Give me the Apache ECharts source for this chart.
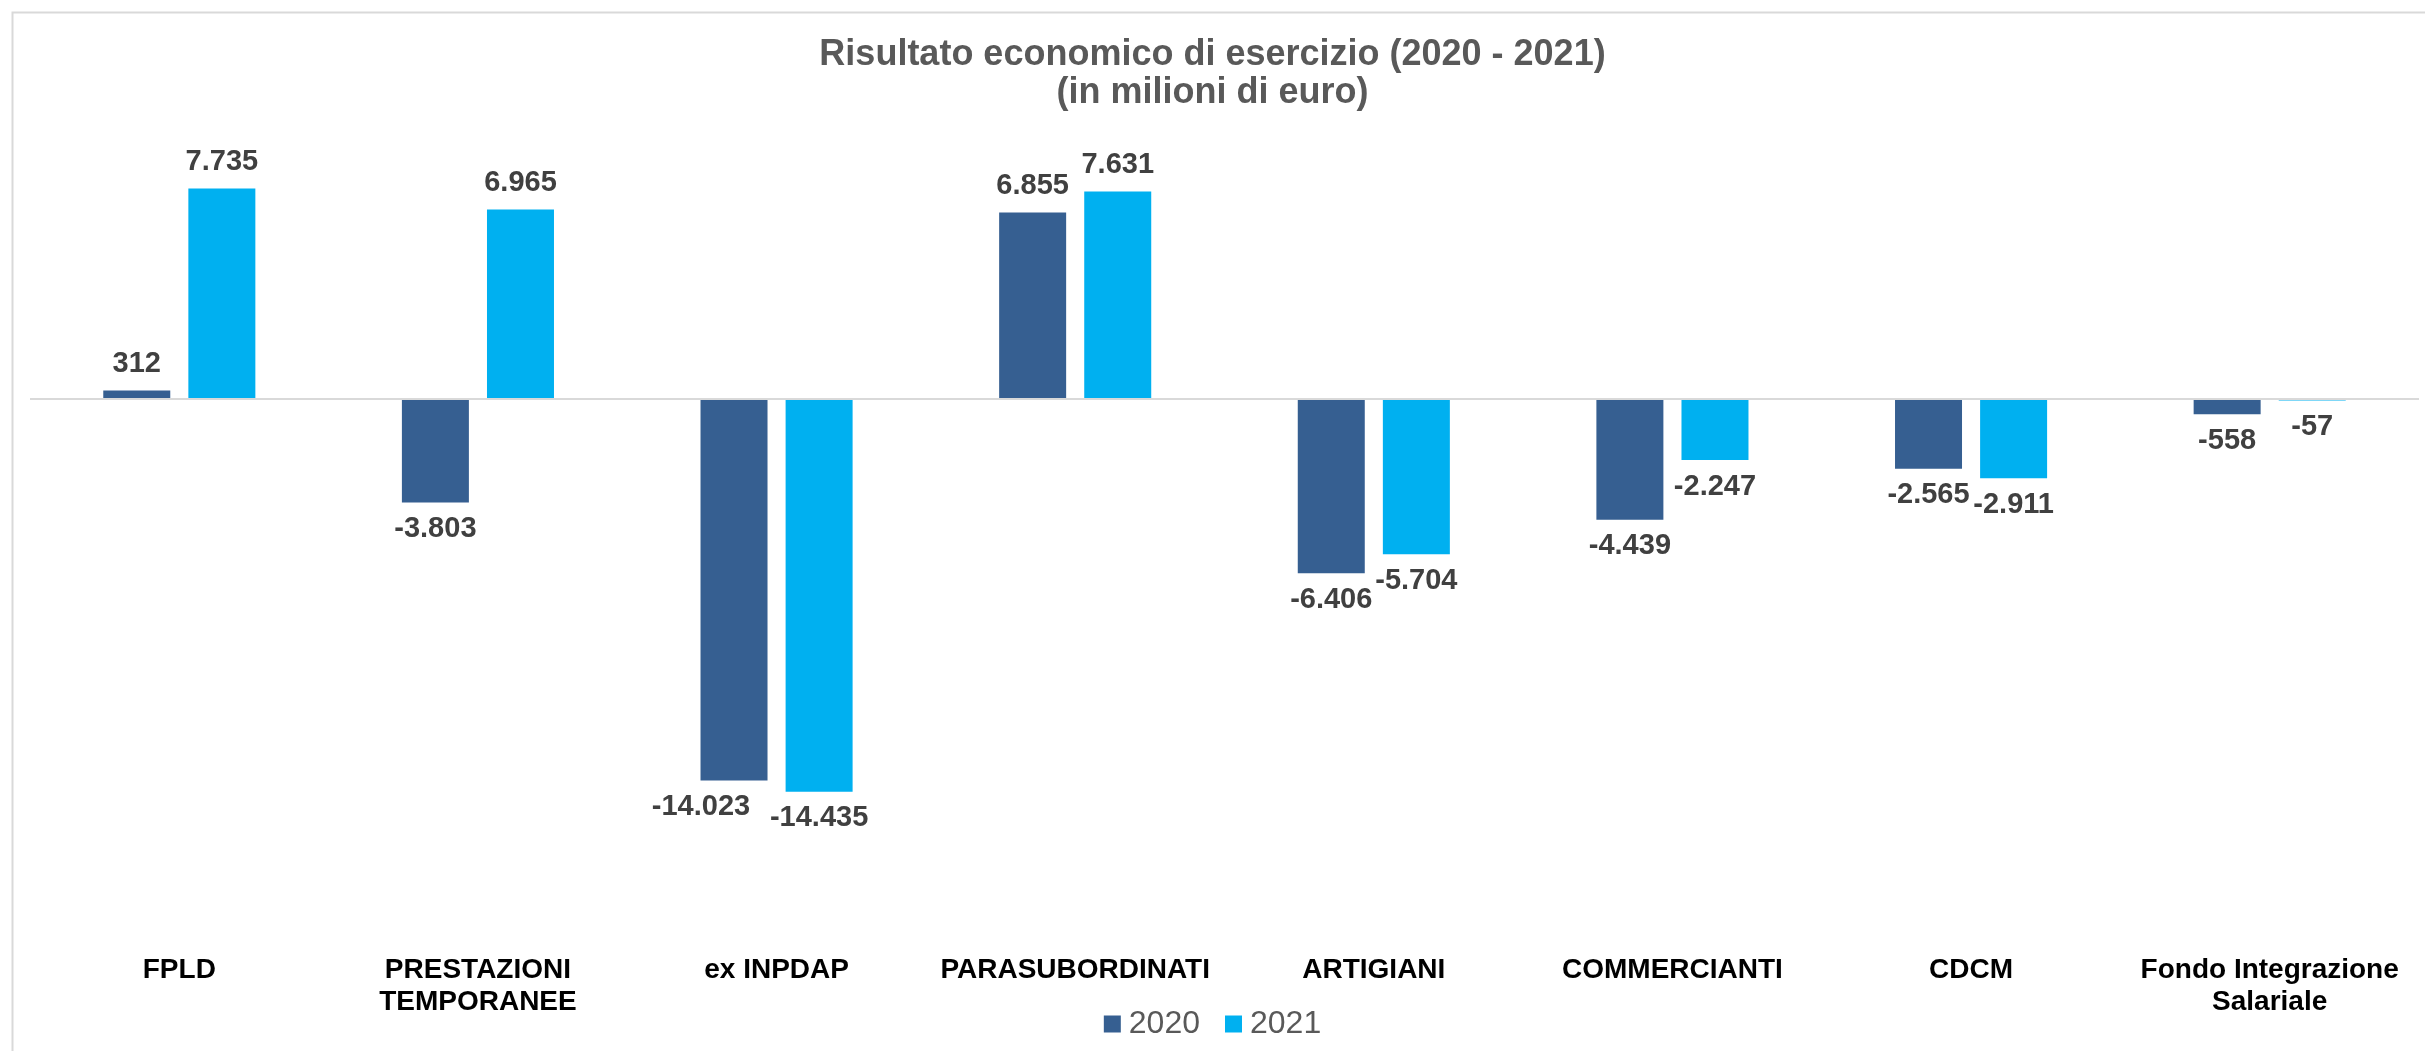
<!DOCTYPE html>
<html>
<head>
<meta charset="utf-8">
<script src="https://cdn.jsdelivr.net/npm/echarts@6/dist/echarts.min.js"></script>
<style>
  html, body { margin: 0; padding: 0; background: #fff; }
  #chart { width: 2425px; height: 1051px; }
</style>
</head>
<body>
<div id="chart"></div>
<script>
var categories = ['FPLD', 'PRESTAZIONI\nTEMPORANEE', 'ex INPDAP', 'PARASUBORDINATI', 'ARTIGIANI', 'COMMERCIANTI', 'CDCM', 'Fondo Integrazione\nSalariale'];
var seriesNames = ['2020', '2021'];
var values2020 = [312, -3803, -14023, 6855, -6406, -4439, -2565, -558];
var values2021 = [7735, 6965, -14435, 7631, -5704, -2247, -2911, -57];

var font = '"Liberation Sans", Arial, sans-serif';

// formato italiano: punto come separatore delle migliaia
function fmt(v) {
  var s = String(Math.abs(v)).replace(/\B(?=(\d{3})+(?!\d))/g, '.');
  return (v < 0 ? '-' : '') + s;
}

// etichette sopra/sotto la barra a seconda del segno
function barData(vals, shift) {
  return vals.map(function (v, i) {
    var lab = { position: v < 0 ? 'bottom' : 'top' };
    if (shift && shift[i]) lab.offset = [shift[i], 0];
    return { value: v, label: lab };
  });
}

var chart = echarts.init(document.getElementById('chart'));
chart.setOption({
  animation: false,
  backgroundColor: '#fff',
  title: {
    text: 'Risultato economico di esercizio (2020 - 2021)\n(in milioni di euro)',
    left: 'center',
    top: 31,
    textStyle: {
      fontFamily: font,
      fontSize: 36,
      fontWeight: 'bold',
      color: '#595959',
      lineHeight: 38,
      align: 'center'
    }
  },
  graphic: [{
    type: 'rect',
    left: 10,
    top: 10,
    shape: { width: 2500, height: 1100 },
    style: { fill: 'none', stroke: '#D9D9D9', lineWidth: 2 },
    silent: true
  }],
  legend: {
    data: seriesNames,
    left: 'center',
    top: 1003,
    icon: 'rect',
    itemWidth: 17,
    itemHeight: 17,
    itemGap: 25,
    textStyle: {
      fontFamily: font,
      fontSize: 32,
      color: '#595959',
      padding: [0, 0, 0, 3]
    }
  },
  grid: {
    left: 30,
    right: 6,
    top: 127,
    bottom: 108,
    containLabel: false
  },
  xAxis: {
    type: 'category',
    data: categories,
    axisLine: { show: false, onZero: false },
    axisTick: { show: false },
    axisLabel: {
      interval: 0,
      margin: 11,
      fontFamily: font,
      fontSize: 28,
      fontWeight: 'bold',
      color: '#000',
      lineHeight: 32
    }
  },
  yAxis: {
    type: 'value',
    min: -20000,
    max: 10000,
    interval: 5000,
    show: false,
    splitLine: { show: false }
  },
  series: [
    {
      name: '2020',
      type: 'bar',
      data: barData(values2020, { 2: -33 }),
      barWidth: 67,
      barGap: '27%',
      itemStyle: { color: '#365F91' },
      label: {
        show: true,
        distance: 12,
        fontFamily: font,
        fontSize: 29,
        fontWeight: 'bold',
        color: '#404040',
        formatter: function (p) { return fmt(p.value); }
      },
      markLine: {
        silent: true,
        symbol: ['none', 'none'],
        label: { show: false },
        lineStyle: { color: '#D9D9D9', width: 2, type: 'solid' },
        data: [{ yAxis: 0 }]
      }
    },
    {
      name: '2021',
      type: 'bar',
      data: barData(values2021),
      barWidth: 67,
      barGap: '27%',
      itemStyle: { color: '#00B0F0' },
      label: {
        show: true,
        distance: 12,
        fontFamily: font,
        fontSize: 29,
        fontWeight: 'bold',
        color: '#404040',
        formatter: function (p) { return fmt(p.value); }
      }
    }
  ]
});
window.onresize = chart.resize;
</script>
</body>
</html>
